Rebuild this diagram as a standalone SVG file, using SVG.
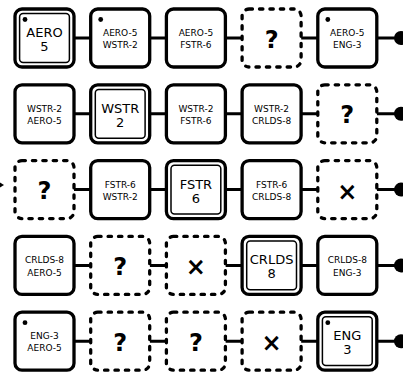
<svg xmlns="http://www.w3.org/2000/svg" width="403" height="372" viewBox="0 0 403 372">
<style>
.b{fill:#fff;stroke:#000;stroke-width:3.3}
.d{fill:#fff;stroke:#000;stroke-width:3.3;stroke-dasharray:3.4 7;stroke-linecap:round}
.in{fill:none;stroke:#000;stroke-width:1.5}
.s{font-family:"DejaVu Sans",sans-serif;font-size:9px;text-anchor:middle;fill:#000}
.L{font-family:"DejaVu Sans",sans-serif;font-size:13px;text-anchor:middle;fill:#000}
.q{font-family:"DejaVu Sans",sans-serif;font-size:24px;font-weight:bold;text-anchor:middle;fill:#000}
.c{stroke:#000;stroke-width:3;fill:none}
</style>
<defs>
<rect id="box" x="0" y="0" width="59" height="58" rx="7" class="b"/>
<rect id="dbox" x="0" y="0" width="59" height="58" rx="7" class="d"/>
<g id="dbl"><rect x="0" y="0" width="59" height="58" rx="7" class="b"/><rect x="4.6" y="4.6" width="49.8" height="48.8" rx="3.5" class="in"/></g>
</defs>
<g id="connectors">
<path class="c" d="M74 38H90.7M149.7 38H166.4M225.4 38H242.1M301.1 38H317.8M376.8 38H400"/>
<path class="c" d="M74 113.8H90.7M149.7 113.8H166.4M225.4 113.8H242.1M301.1 113.8H317.8M376.8 113.8H400"/>
<path class="c" d="M74 189.6H90.7M149.7 189.6H166.4M225.4 189.6H242.1M301.1 189.6H317.8M376.8 189.6H400"/>
<path class="c" d="M74 265.4H90.7M149.7 265.4H166.4M225.4 265.4H242.1M301.1 265.4H317.8M376.8 265.4H400"/>
<path class="c" d="M74 341.2H90.7M149.7 341.2H166.4M225.4 341.2H242.1M301.1 341.2H317.8M376.8 341.2H400"/>
<circle cx="401" cy="38" r="7"/>
<circle cx="401" cy="113.8" r="7"/>
<circle cx="401" cy="189.6" r="7"/>
<circle cx="401" cy="265.4" r="7"/>
<circle cx="401" cy="341.2" r="7"/>
<path d="M0 182.5L4 185L0 187.5Z"/>
</g>
<!-- Row 1 -->
<g id="n11" transform="translate(15,9)"><use href="#dbl"/><circle cx="10" cy="10.5" r="2.4"/><text class="L" x="29.5" y="28">AERO</text><text class="L" x="29.5" y="42">5</text></g>
<g id="n12" transform="translate(90.7,9)"><use href="#box"/><circle cx="10" cy="10.5" r="2.4"/><text class="s" x="29.5" y="27">AERO-5</text><text class="s" x="29.5" y="39.3">WSTR-2</text></g>
<g id="n13" transform="translate(166.4,9)"><use href="#box"/><text class="s" x="29.5" y="27">AERO-5</text><text class="s" x="29.5" y="39.3">FSTR-6</text></g>
<g id="n14" transform="translate(242.1,9)"><use href="#dbox"/><text class="q" x="29.5" y="38.5">?</text></g>
<g id="n15" transform="translate(317.8,9)"><use href="#box"/><circle cx="10" cy="10.5" r="2.4"/><text class="s" x="29.5" y="27">AERO-5</text><text class="s" x="29.5" y="39.3">ENG-3</text></g>
<!-- Row 2 -->
<g id="n21" transform="translate(15,84.8)"><use href="#box"/><text class="s" x="29.5" y="27">WSTR-2</text><text class="s" x="29.5" y="39.3">AERO-5</text></g>
<g id="n22" transform="translate(90.7,84.8)"><use href="#dbl"/><text class="L" x="29.5" y="28">WSTR</text><text class="L" x="29.5" y="42">2</text></g>
<g id="n23" transform="translate(166.4,84.8)"><use href="#box"/><text class="s" x="29.5" y="27">WSTR-2</text><text class="s" x="29.5" y="39.3">FSTR-6</text></g>
<g id="n24" transform="translate(242.1,84.8)"><use href="#box"/><text class="s" x="29.5" y="27">WSTR-2</text><text class="s" x="29.5" y="39.3">CRLDS-8</text></g>
<g id="n25" transform="translate(317.8,84.8)"><use href="#dbox"/><text class="q" x="29.5" y="38.5">?</text></g>
<!-- Row 3 -->
<g id="n31" transform="translate(15,160.6)"><use href="#dbox"/><text class="q" x="29.5" y="38.5">?</text></g>
<g id="n32" transform="translate(90.7,160.6)"><use href="#box"/><text class="s" x="29.5" y="27">FSTR-6</text><text class="s" x="29.5" y="39.3">WSTR-2</text></g>
<g id="n33" transform="translate(166.4,160.6)"><use href="#dbl"/><text class="L" x="29.5" y="28">FSTR</text><text class="L" x="29.5" y="42">6</text></g>
<g id="n34" transform="translate(242.1,160.6)"><use href="#box"/><text class="s" x="29.5" y="27">FSTR-6</text><text class="s" x="29.5" y="39.3">CRLDS-8</text></g>
<g id="n35" transform="translate(317.8,160.6)"><use href="#dbox"/><text class="q" x="29.5" y="39">×</text></g>
<!-- Row 4 -->
<g id="n41" transform="translate(15,236.4)"><use href="#box"/><text class="s" x="29.5" y="27">CRLDS-8</text><text class="s" x="29.5" y="39.3">AERO-5</text></g>
<g id="n42" transform="translate(90.7,236.4)"><use href="#dbox"/><text class="q" x="29.5" y="38.5">?</text></g>
<g id="n43" transform="translate(166.4,236.4)"><use href="#dbox"/><text class="q" x="29.5" y="39">×</text></g>
<g id="n44" transform="translate(242.1,236.4)"><use href="#dbl"/><text class="L" x="29.5" y="28">CRLDS</text><text class="L" x="29.5" y="42">8</text></g>
<g id="n45" transform="translate(317.8,236.4)"><use href="#box"/><text class="s" x="29.5" y="27">CRLDS-8</text><text class="s" x="29.5" y="39.3">ENG-3</text></g>
<!-- Row 5 -->
<g id="n51" transform="translate(15,312.2)"><use href="#box"/><circle cx="10" cy="10.5" r="2.4"/><text class="s" x="29.5" y="27">ENG-3</text><text class="s" x="29.5" y="39.3">AERO-5</text></g>
<g id="n52" transform="translate(90.7,312.2)"><use href="#dbox"/><text class="q" x="29.5" y="38.5">?</text></g>
<g id="n53" transform="translate(166.4,312.2)"><use href="#dbox"/><text class="q" x="29.5" y="38.5">?</text></g>
<g id="n54" transform="translate(242.1,312.2)"><use href="#dbox"/><text class="q" x="29.5" y="39">×</text></g>
<g id="n55" transform="translate(317.8,312.2)"><use href="#dbl"/><circle cx="10" cy="10.5" r="2.4"/><text class="L" x="29.5" y="28">ENG</text><text class="L" x="29.5" y="42">3</text></g>
</svg>
